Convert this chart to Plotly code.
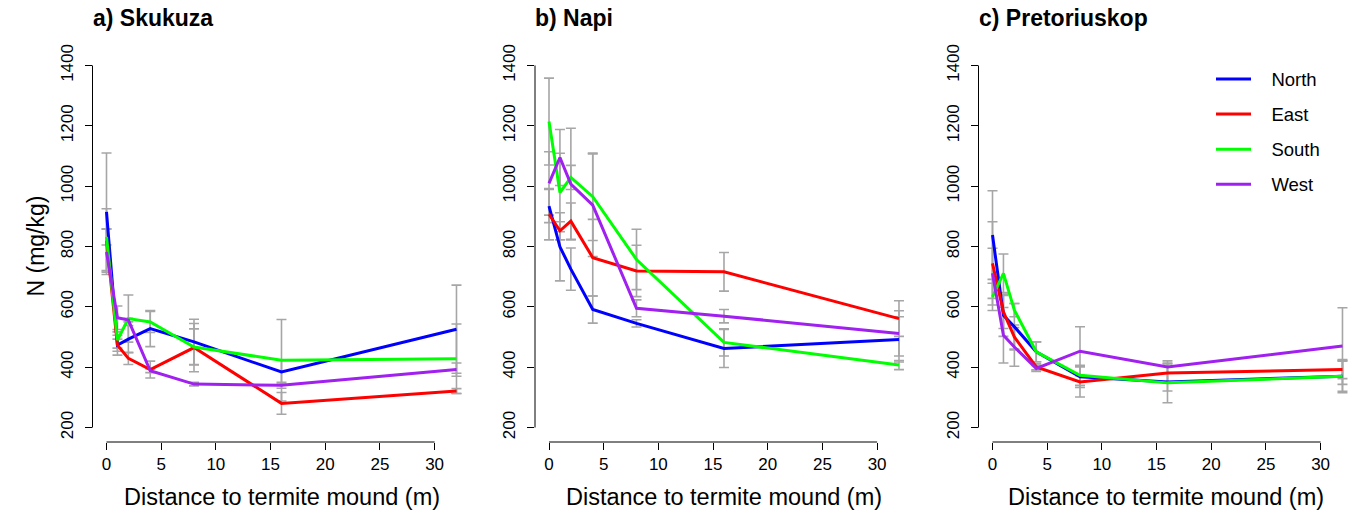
import plotly.graph_objects as go

# ---------------- data ----------------
distance = [0, 1, 2, 4, 8, 16, 32]
series_names = ["North", "East", "South", "West"]
series_colors = ["#0000FF", "#FF0000", "#00FF00", "#A020F0"]
panel_titles = ["a) Skukuza", "b) Napi", "c) Pretoriuskop"]

# a) Skukuza
sku_north = [915, 473, 493, 528, 484, 384, 526]
sku_east = [820, 473, 429, 392, 465, 280, 321]
sku_south = [832, 490, 561, 550, 467, 423, 428]
sku_west = [782, 564, 556, 388, 344, 340, 392]
sku_north_se = [195, 33, 45, 60, 75, 40, 146]
sku_east_se = [105, 20, 20, 28, 80, 36, 8]
sku_south_se = [27, 27, 78, 35, 60, 135, 115]
sku_west_se = [75, 39, 6, 6, 6, 10, 22]

# b) Napi
napi_north = [934, 799, 725, 591, 545, 462, 492]
napi_east = [907, 852, 884, 763, 719, 716, 561]
napi_south = [1214, 979, 1029, 965, 757, 482, 407]
napi_west = [1009, 1095, 1007, 937, 595, 569, 512]
napi_north_se = [55, 113, 70, 45, 12, 63, 75]
napi_east_se = [85, 30, 60, 127, 85, 64, 59]
napi_south_se = [144, 130, 40, 145, 100, 45, 15]
napi_west_se = [105, 93, 185, 170, 28, 22, 75]

# c) Pretoriuskop
pre_north = [838, 572, 534, 451, 368, 351, 370]
pre_east = [744, 583, 500, 401, 351, 381, 392]
pre_south = [633, 711, 589, 451, 373, 348, 370]
pre_west = [711, 506, 467, 396, 453, 401, 470]
pre_north_se = [147, 70, 77, 33, 35, 30, 50]
pre_east_se = [138, 55, 40, 10, 50, 30, 30]
pre_south_se = [45, 64, 22, 33, 33, 66, 55]
pre_west_se = [83, 92, 64, 10, 81, 20, 127]

y_ticks = [200, 400, 600, 800, 1000, 1200, 1400]
x_ticks = [0, 5, 10, 15, 20, 25, 30]

panels = [
    ([sku_north, sku_east, sku_south, sku_west],
     [sku_north_se, sku_east_se, sku_south_se, sku_west_se]),
    ([napi_north, napi_east, napi_south, napi_west],
     [napi_north_se, napi_east_se, napi_south_se, napi_west_se]),
    ([pre_north, pre_east, pre_south, pre_west],
     [pre_north_se, pre_east_se, pre_south_se, pre_west_se]),
]

# ---------------- layout geometry ----------------
W, H = 1354, 513
FONT = "Liberation Sans, Arial, Helvetica, sans-serif"
px_per_unit = 10.937
plot_w = 378.0
lefts = [92.5, 535.0, 978.5]
NB = "\u00a0\u00a0\u00a0"

fig = go.Figure()
layout_axes = {}
shapes = []
annotations = []

for i, ((vals, ses), title) in enumerate(zip(panels, panel_titles)):
    xa = "x" if i == 0 else f"x{i+1}"
    ya = "y" if i == 0 else f"y{i+1}"
    x0 = lefts[i] / W
    x1 = min(1.0, (lefts[i] + plot_w) / W)
    width_px = (x1 - x0) * W
    xr = [-1.28, -1.28 + width_px / px_per_unit]

    # error bars first (drawn under lines)
    for vs, se in zip(vals, ses):
        fig.add_trace(go.Scatter(
            x=distance, y=vs, mode="markers",
            marker=dict(size=1, color="rgba(0,0,0,0)"),
            error_y=dict(type="data", array=se, color="#A6A6A6",
                         thickness=1.6, width=5),
            showlegend=False, hoverinfo="skip", xaxis=xa, yaxis=ya))
    for vs, name, col in zip(vals, series_names, series_colors):
        fig.add_trace(go.Scatter(
            x=distance, y=vs, mode="lines", name=NB + name,
            line=dict(color=col, width=3),
            legendgroup=name, showlegend=(i == 0),
            xaxis=xa, yaxis=ya))

    xkey = "xaxis" if i == 0 else f"xaxis{i+1}"
    ykey = "yaxis" if i == 0 else f"yaxis{i+1}"
    layout_axes[xkey] = dict(
        domain=[x0, x1], range=xr, anchor=ya,
        tickmode="array", tickvals=x_ticks,
        ticks="outside", ticklen=7, tickwidth=1, tickcolor="black",
        showgrid=False, zeroline=False, showline=False,
        tickfont=dict(family=FONT, size=17, color="black"),
        ticklabelstandoff=0)
    layout_axes[ykey] = dict(
        domain=[0, 1], range=[152, 1448], anchor=xa,
        tickmode="array", tickvals=y_ticks, tickangle=-90,
        ticks="outside", ticklen=7, tickwidth=1, tickcolor="black",
        showgrid=False, zeroline=False, showline=False,
        tickfont=dict(family=FONT, size=17, color="black"),
        ticklabelstandoff=5)

    # R-style axis lines spanning the ticks only
    shapes.append(dict(type="line", xref=f"{xa} domain", yref=ya,
                       x0=0, x1=0, y0=y_ticks[0], y1=y_ticks[-1],
                       line=dict(color="black", width=1)))
    shapes.append(dict(type="line", xref=xa, yref=f"{ya} domain",
                       x0=x_ticks[0], x1=x_ticks[-1], y0=0, y1=0,
                       line=dict(color="black", width=1)))

    annotations.append(dict(
        text=f"<b>{title}</b>", xref=f"{xa} domain", x=0, xanchor="left",
        xshift=-2,
        yref="paper", y=(442 - 18) / 391, yanchor="middle",
        showarrow=False, font=dict(family=FONT, size=23, color="black")))
    annotations.append(dict(
        text="Distance to termite mound (m)", xref=f"{xa} domain", x=0.5,
        xanchor="center", yref="paper", y=(442 - 497) / 391, yanchor="middle",
        showarrow=False, font=dict(family=FONT, size=23.5, color="black")))

annotations.append(dict(
    text="N (mg/kg)", xref="paper", x=35 / W, xanchor="center",
    yref="y", y=800, yanchor="middle", textangle=-90,
    showarrow=False, font=dict(family=FONT, size=23, color="black")))

fig.update_layout(
    width=W, height=H,
    margin=dict(l=0, r=0, t=51, b=71),
    paper_bgcolor="white", plot_bgcolor="white",
    font=dict(family=FONT, color="black"),
    shapes=shapes, annotations=annotations,
    legend=dict(x=1211 / W, xanchor="left", y=1 - (60.5 - 51) / 391,
                yanchor="top", bgcolor="rgba(0,0,0,0)",
                font=dict(family=FONT, size=18.5, color="black"),
                tracegroupgap=8, itemwidth=35),
    **layout_axes,
)

fig.write_html("out.html")
